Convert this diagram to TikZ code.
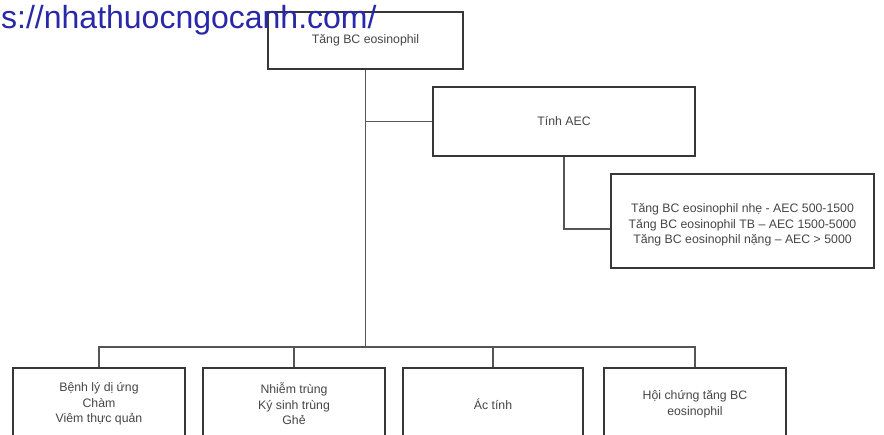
\documentclass[tikz,border=0pt]{standalone}
\usepackage{fontspec}
\setmainfont{Liberation Sans}
\definecolor{wmblue}{RGB}{40,40,168}
\definecolor{boxline}{RGB}{55,55,55}
\definecolor{txtgray}{RGB}{70,70,70}
\tikzset{
  box/.style = {draw = boxline, line width = 1.8pt, inner sep = 0pt, align = center,
                text = txtgray, font = \fontsize{12.3}{15.5}\selectfont},
  link/.style = {draw = boxline!85, line width = 1.7pt}
}
\begin{document}
\begin{tikzpicture}[x = 1pt, y = -1pt]
\useasboundingbox (0,0) rectangle (884,434);
\clip (0,0) rectangle (884,434);
\fill[white] (0,0) rectangle (884,434);
% hop tren
\node[box, minimum width = 195pt, minimum height = 57pt] (top) at (365.5,40.5) {Tăng BC eosinophil};
\node[box, minimum width = 262pt, minimum height = 69pt] (aec) at (564,121.5) {\raisebox{-2pt}{Tính AEC}};
\node[box, minimum width = 263pt, minimum height = 94pt] (grade) at (742.5,221)
  {\rule{0pt}{17pt}Tăng BC eosinophil nhẹ - AEC 500-1500\\Tăng BC eosinophil TB – AEC 1500-5000\\Tăng BC eosinophil nặng – AEC > 5000};
% hang duoi
\node[box, minimum width = 172pt, minimum height = 72pt] (allergy) at (99,404) {Bệnh lý dị ứng\\Chàm\\Viêm thực quản};
\node[box, minimum width = 182pt, minimum height = 72pt] (infect) at (294,404) {Nhiễm trùng\\Ký sinh trùng\\Ghẻ};
\node[box, minimum width = 180pt, minimum height = 72pt] (malig) at (493,404) {Ác tính};
\node[box, minimum width = 182pt, minimum height = 72pt] (hes) at (695,404) {Hội chứng tăng BC\\eosinophil};
\coordinate (bus) at (0,347);
% noi
\draw[link] (top.south) -- (top.south |- bus);
\draw[link] (top.south |- aec.west) -- (aec.west);
\draw[link] (aec.south) |- ([yshift = -8pt]grade.west);
\draw[link] (allergy.north) |- (hes.north |- bus) -- (hes.north);
\draw[link] (infect.north) -- (infect.north |- bus);
\draw[link] (malig.north) -- (malig.north |- bus);
% chu mo
\node[anchor = base west, inner sep = 0pt, text = wmblue, font = \fontsize{32}{36}\selectfont] (url) at (1,28) {s://nhathuocngocanh.com/};
\end{tikzpicture}
\end{document}
